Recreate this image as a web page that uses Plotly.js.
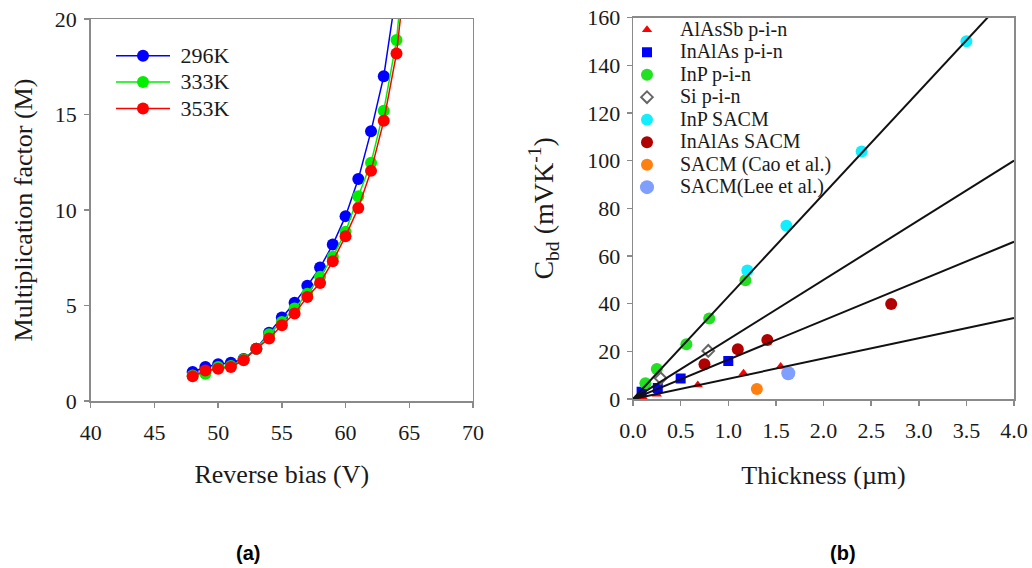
<!DOCTYPE html>
<html>
<head>
<meta charset="utf-8">
<script src="https://cdn.plot.ly/plotly-3.0.1.min.js"></script>
<style>html,body{margin:0;padding:0;background:#fff;}#chart{width:1032px;height:568px;}</style>
</head>
<body>
<div id="chart"></div>
<script>
// ---- Panel (a): multiplication factor vs reverse bias ----
const bias296 = [48,49,50,51,52,53,54,55,56,57,58,59,60,61,62,63,64];
const mult296 = [1.52,1.78,1.92,2.0,2.2,2.74,3.58,4.37,5.14,6.03,6.99,8.19,9.68,11.62,14.13,17.01,21.5];
const bias333 = [48,49,50,51,52,53,54,55,56,57,58,59,60,61,62,63,64,65];
const mult333 = [1.34,1.43,1.78,1.83,2.17,2.74,3.49,4.14,4.84,5.62,6.5,7.55,8.86,10.72,12.47,15.2,18.9,25.8];
const bias353 = [48,49,50,51,52,53,54,55,56,57,58,59,60,61,62,63,64,65];
const mult353 = [1.29,1.6,1.69,1.78,2.13,2.74,3.27,3.97,4.58,5.45,6.18,7.32,8.63,10.11,12.05,14.67,18.2,24.2];
const tempLabels = ['296K','333K','353K'];

// ---- Panel (b): Cbd vs thickness ----
const alassbPinX = [0.1,0.25,0.68,1.16,1.55];
const alassbPinY = [1.0,2.0,5.9,10.8,13.6];
const inalasPinX = [0.09,0.26,0.5,1.0];
const inalasPinY = [3.0,4.6,8.6,16.0];
const inpPinX = [0.13,0.25,0.56,0.80,1.18];
const inpPinY = [6.6,12.6,23.0,33.8,49.8];
const siPinX = [0.29,0.79];
const siPinY = [8.7,20.2];
const inpSacmX = [1.20,1.61,2.40,3.50];
const inpSacmY = [53.9,72.7,103.9,150.1];
const inalasSacmX = [0.75,1.10,1.41,2.71];
const inalasSacmY = [14.6,20.9,24.8,39.9];
const caoX = [1.30];
const caoY = [4.2];
const leeX = [1.63];
const leeY = [10.8];
const seriesNames = ['AlAsSb p-i-n','InAlAs p-i-n','InP p-i-n','Si p-i-n','InP SACM','InAlAs SACM','SACM (Cao et al.)','SACM(Lee et al.)'];
// fitted lines through origin (end points)
const fitX = [0, 4];
const fitY1 = [0, 172];
const fitY2 = [0, 100];
const fitY3 = [0, 66];
const fitY4 = [0, 34];

const serif = 'Liberation Serif, Times New Roman, serif';
const txt = '#1a1a1a';
const big = (s, px) => '<span style="font-size:' + px + 'px">' + s + '</span>';

const traces = [];
const lcols = ['#0000ff','#00ee00','#ff0000'];
[[bias296,mult296],[bias333,mult333],[bias353,mult353]].forEach((d,i) => {
  traces.push({
    x: d[0], y: d[1], type: 'scatter', mode: 'lines+markers',
    name: big('&#160;' + tempLabels[i], 22), xaxis: 'x', yaxis: 'y', legend: 'legend',
    line: {color: lcols[i], width: 1.5},
    marker: {color: lcols[i], size: 12, symbol: 'circle'}
  });
});

const pts = [
  [alassbPinX, alassbPinY, '#ff0000', 'triangle-up', 9, null],
  [inalasPinX, inalasPinY, '#0000ff', 'square', 10, null],
  [inpPinX, inpPinY, '#22e022', 'circle', 12, null],
  [siPinX, siPinY, '#666666', 'diamond-open', 9, 2],
  [inpSacmX, inpSacmY, '#11eeff', 'circle', 12, null],
  [inalasSacmX, inalasSacmY, '#b00000', 'circle', 12, null],
  [caoX, caoY, '#ff7f10', 'circle', 12, null],
  [leeX, leeY, '#7f9fff', 'circle', 14, null]
];
pts.forEach((p, i) => {
  const mk = {color: p[2], size: p[4], symbol: p[3]};
  if (p[5]) mk.line = {color: p[2], width: p[5]};
  traces.push({
    x: p[0], y: p[1], type: 'scatter', mode: 'markers',
    name: big(seriesNames[i], 20), xaxis: 'x2', yaxis: 'y2', legend: 'legend2',
    marker: mk
  });
});
[fitY1, fitY2, fitY3, fitY4].forEach(fy => {
  traces.push({
    x: fitX, y: fy, type: 'scatter', mode: 'lines', showlegend: false,
    xaxis: 'x2', yaxis: 'y2', line: {color: '#111', width: 2}, hoverinfo: 'skip'
  });
});

const axBase = {
  showgrid: false, zeroline: false, showline: true, mirror: true,
  linecolor: '#8a8a8a', linewidth: 1.5, ticks: 'outside', ticklen: 5,
  tickcolor: '#8a8a8a', tickwidth: 1.5,
  tickfont: {family: serif, size: 22, color: txt}
};

const layout = {
  width: 1032, height: 568,
  margin: {l: 0, r: 0, t: 0, b: 0},
  paper_bgcolor: '#fff', plot_bgcolor: '#fff',
  font: {family: serif, color: txt},
  xaxis: Object.assign({}, axBase, {
    domain: [0.0879, 0.4583], range: [40, 70], dtick: 5, anchor: 'y', ticklabelstandoff: 6,
    title: {text: 'Reverse bias (V)', font: {family: serif, size: 26, color: txt}, standoff: 21}
  }),
  yaxis: Object.assign({}, axBase, {
    domain: [0.294, 0.9665], range: [0, 20], dtick: 5, anchor: 'x', ticklabelstandoff: 3,
    title: {text: 'Multiplication factor (M)', font: {family: serif, size: 26, color: txt}, standoff: 14}
  }),
  xaxis2: Object.assign({}, axBase, {
    domain: [0.6134, 0.9826], range: [0, 4], dtick: 0.5, tickformat: '.1f', anchor: 'y2', ticklabelstandoff: 6,
    title: {text: 'Thickness (µm)', font: {family: serif, size: 26, color: txt}, standoff: 24}
  }),
  yaxis2: Object.assign({}, axBase, {
    domain: [0.2975, 0.9688], range: [0, 160], dtick: 20, anchor: 'x2', ticklabelstandoff: 2,
    title: {text: 'C<sub>bd</sub> (mVK<sup>-1</sup>)', font: {family: serif, size: 28, color: txt}, standoff: 25}
  }),
  legend: {
    x: 111 / 1032, y: 0.934, xanchor: 'left', yanchor: 'top',
    bgcolor: 'rgba(0,0,0,0)', borderwidth: 0, itemwidth: 54,
    font: {family: serif, size: 18, color: txt}
  },
  legend2: {
    x: 614 / 1032, y: 0.9764, xanchor: 'left', yanchor: 'top',
    bgcolor: 'rgba(0,0,0,0)', borderwidth: 0, itemwidth: 56,
    font: {family: serif, size: 15, color: txt}
  },
  showlegend: true,
  annotations: [
    {text: '<b>(a)</b>', x: 0.2403, y: 0.0264, xref: 'paper', yref: 'paper', showarrow: false,
     xanchor: 'center', yanchor: 'middle',
     font: {family: 'Liberation Sans, Arial, sans-serif', size: 20, color: '#000'}},
    {text: '<b>(b)</b>', x: 0.8169, y: 0.0264, xref: 'paper', yref: 'paper', showarrow: false,
     xanchor: 'center', yanchor: 'middle',
     font: {family: 'Liberation Sans, Arial, sans-serif', size: 20, color: '#000'}}
  ]
};

Plotly.newPlot('chart', traces, layout, {displayModeBar: false, staticPlot: true});
</script>
</body>
</html>
